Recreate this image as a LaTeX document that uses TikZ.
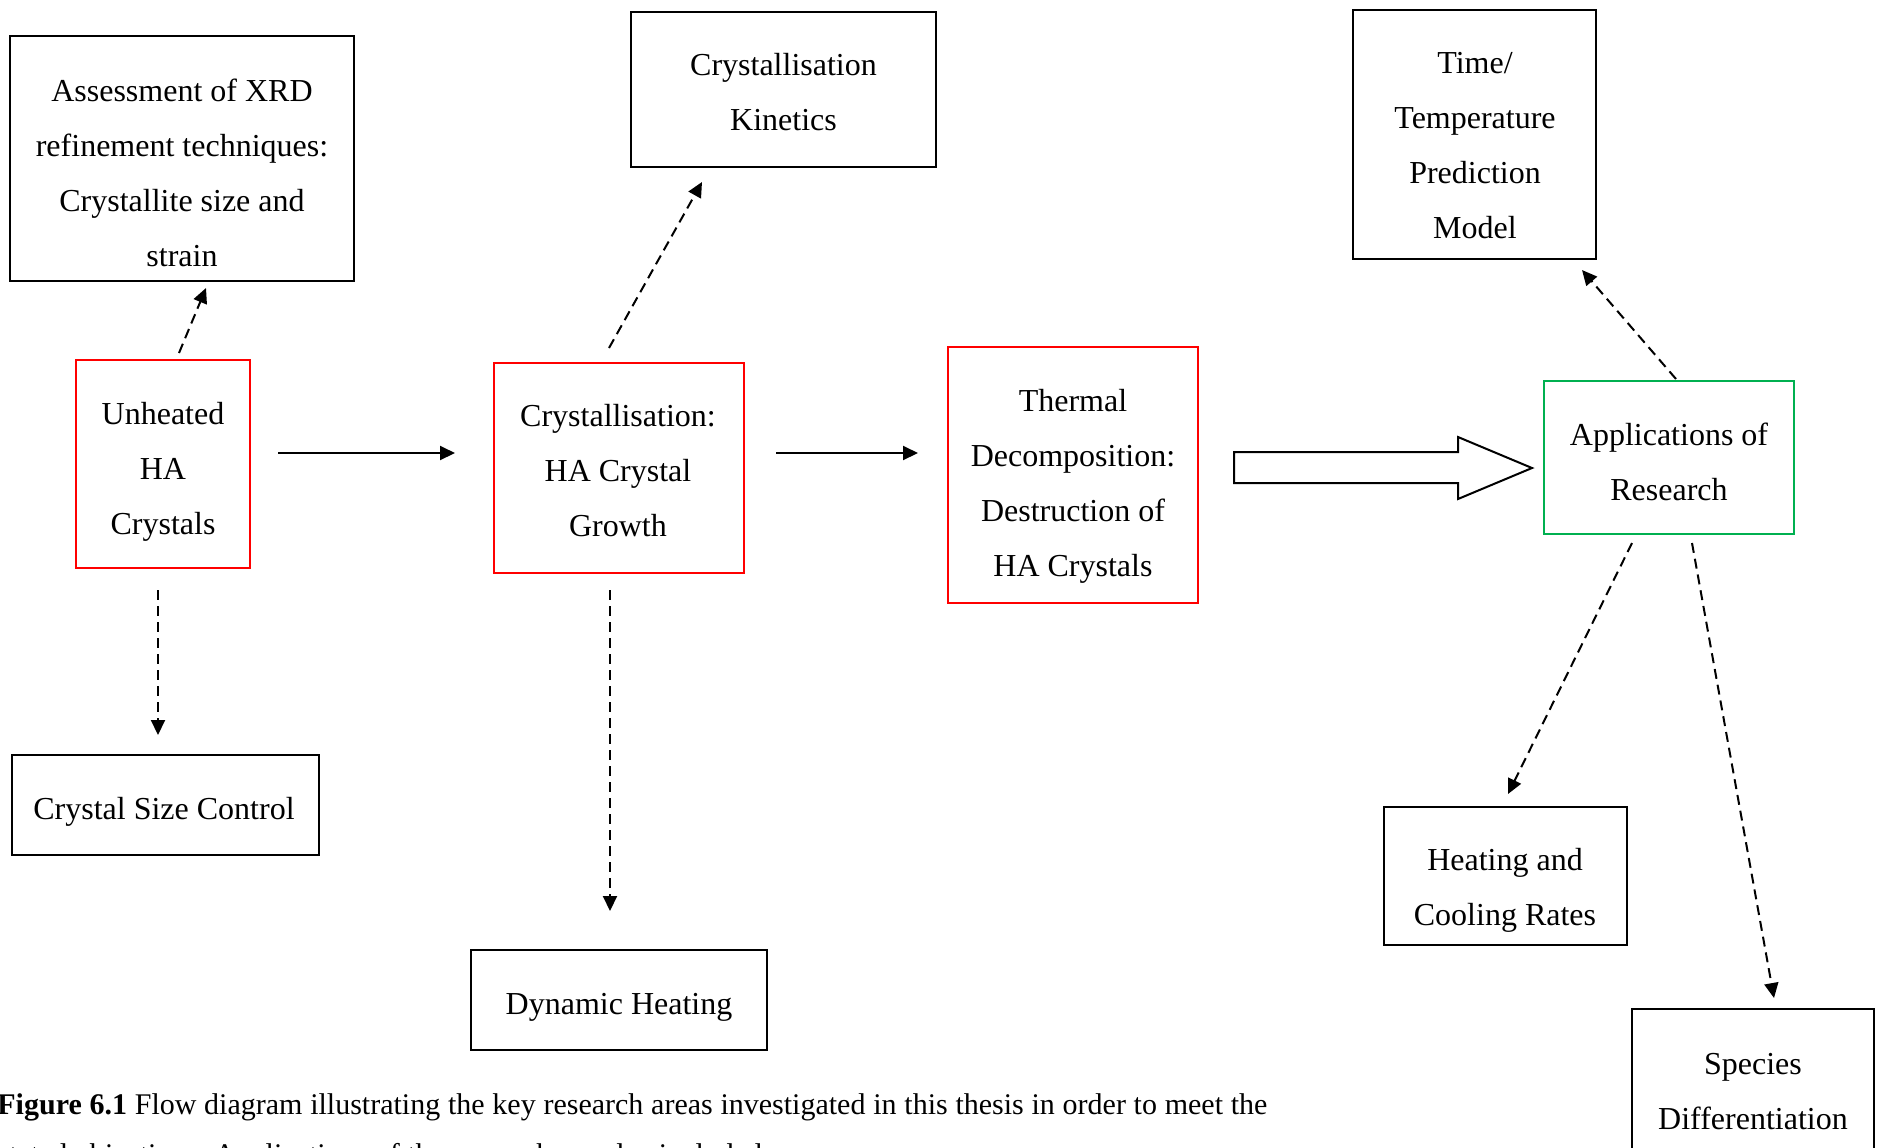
\documentclass[tikz,border=0pt]{standalone}
\usepackage{fontspec}
\setmainfont{Liberation Serif}
\usetikzlibrary{arrows.meta}
\definecolor{boxred}{RGB}{255,0,0}
\definecolor{boxgreen}{RGB}{0,176,80}
\newcommand{\ml}[1]{\begin{tabular}[t]{@{}c@{}}#1\end{tabular}}
\begin{document}
\begin{tikzpicture}[x=0.5pt,y=-0.5pt,
  box/.style={draw, line width=1pt, inner sep=0pt},
  redbox/.style={box, draw=boxred},
  greenbox/.style={box, draw=boxgreen},
  txt/.style={anchor=base, inner sep=0pt, font=\fontsize{16}{27.5}\selectfont},
  arr/.style={line width=1pt, -{Triangle[length=7.5pt,width=7pt]}},
  dsh/.style={arr, dash pattern=on 5pt off 3pt}]
\clip (0,0) rectangle (1880,1147);
\fill[white] (0,0) rectangle (1880,1147);

% boxes
\node[box, minimum width=172pt, minimum height=122.5pt] (A) at (182,158.5) {};
\node[redbox, minimum width=87.2pt, minimum height=103.8pt] (U) at (162.9,463.9) {};
\node[box, minimum width=153.5pt, minimum height=50pt] (CSC) at (165.5,805) {};
\node[box, minimum width=152.5pt, minimum height=77.5pt] (K) at (783.5,89.5) {};
\node[redbox, minimum width=125pt, minimum height=105pt] (C) at (618.7,467.7) {};
\node[box, minimum width=148pt, minimum height=50pt] (D) at (619,1000) {};
\node[redbox, minimum width=125.3pt, minimum height=128.3pt] (T) at (1073,475) {};
\node[greenbox, minimum width=125pt, minimum height=76.35pt] (AP) at (1669,457.35) {};
\node[box, minimum width=121.35pt, minimum height=124.65pt] (TT) at (1474.7,134.7) {};
\node[box, minimum width=121.35pt, minimum height=68.85pt] (H) at (1505.3,876.2) {};
\node[box, minimum width=121pt, minimum height=70.5pt] (S) at (1753,1079.5) {};

% texts
\node[txt] (At) at (182,101) {\ml{Assessment of XRD\\refinement techniques:\\Crystallite size and\\strain}};
\node[txt] (Ut) at (163,424) {\ml{Unheated\\HA\\Crystals}};
\node[txt] (CSCt) at (164,819) {Crystal Size Control};
\node[txt] (Kt) at (783.5,75) {\ml{Crystallisation\\Kinetics}};
\node[txt] (Ct) at (618,426) {\ml{Crystallisation:\\HA Crystal\\Growth}};
\node[txt] (Dt) at (619,1014) {Dynamic Heating};
\node[txt] (Tt) at (1073,411) {\ml{Thermal\\Decomposition:\\Destruction of\\HA Crystals}};
\node[txt] (APt) at (1669,445) {\ml{Applications of\\Research}};
\node[txt] (TTt) at (1475,73.3) {\ml{Time/\\Temperature\\Prediction\\Model}};
\node[txt] (Ht) at (1505,870.7) {\ml{Heating and\\Cooling Rates}};
\node[txt] (St) at (1753,1074) {\ml{Species\\Differentiation}};

% connector end points
\coordinate (uA) at (179,353);   \coordinate (aU) at (206,288);
\coordinate (uS) at (158,590);   \coordinate (sU) at (158,735);
\coordinate (uC) at (278,453);   \coordinate (cU) at (455,453);
\coordinate (cK) at (609,348);   \coordinate (kC) at (702,182);
\coordinate (cD) at (610,590);   \coordinate (dC) at (610,911);
\coordinate (cT) at (776,453);   \coordinate (tC) at (918,453);
\coordinate (pT) at (1676,379);  \coordinate (tP) at (1582,270);
\coordinate (pH) at (1632,543);  \coordinate (hP) at (1508,794);
\coordinate (pS) at (1692,543);  \coordinate (sP) at (1774,998);

\draw[dsh] (uA) -- (aU);
\draw[dsh] (uS) -- (sU);
\draw[arr] (uC) -- (cU);
\draw[dsh] (cK) -- (kC);
\draw[dsh] (cD) -- (dC);
\draw[arr] (cT) -- (tC);
\draw[dsh] (pT) -- (tP);
\draw[dsh] (pH) -- (hP);
\draw[dsh] (pS) -- (sP);

% block arrow
\draw[line width=1pt, line join=miter] (1234,452) -- (1458,452) -- (1458,437) -- (1532,468)
  -- (1458,499) -- (1458,483) -- (1234,483) -- cycle;

% caption
\node[anchor=base west, inner sep=0pt, font=\fontsize{15}{25}\selectfont] (cap) at (-3,1114)
  {\begin{tabular}[t]{@{}l@{}}\makebox[635pt][s]{\textbf{Figure 6.1} Flow diagram illustrating the key research areas investigated in this thesis in order to meet the}\\
  stated objectives. Applications of the research are also included.\end{tabular}};
\end{tikzpicture}
\end{document}
